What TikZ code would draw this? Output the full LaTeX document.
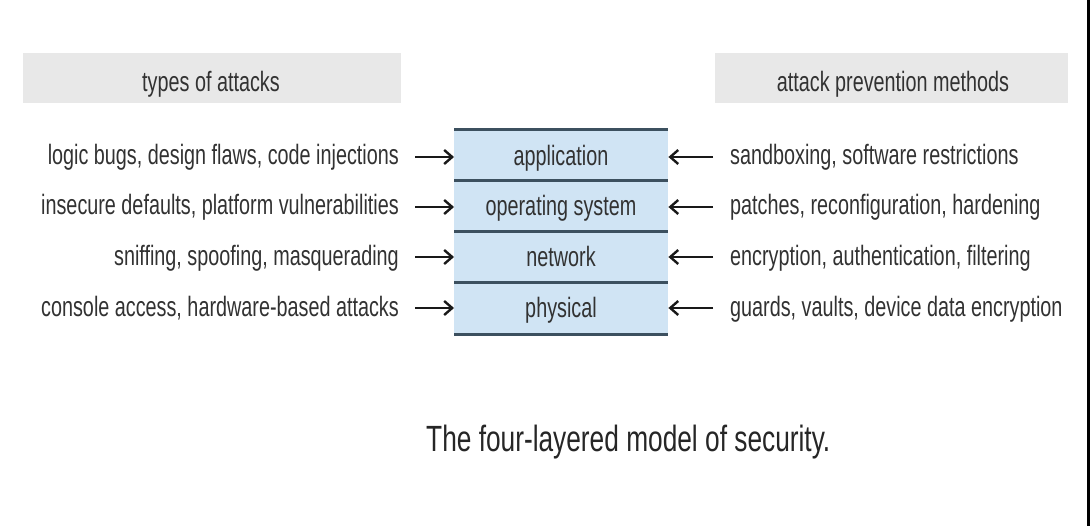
\documentclass[tikz,border=0pt]{standalone}
\usepackage{fontspec}
\setmainfont{Liberation Sans}[FakeStretch=0.707]
\newfontfamily\capfont{Liberation Sans}[FakeStretch=0.72]
\usetikzlibrary{arrows.meta}
\definecolor{layerfill}{RGB}{208,228,244}
\definecolor{layerline}{RGB}{60,80,95}
\definecolor{hdrgray}{RGB}{232,232,232}
\definecolor{txt}{RGB}{50,50,50}
\tikzset{
  lbl/.style={font=\fontsize{28}{32}\selectfont, text=txt, inner sep=0pt},
  hdr/.style={fill=hdrgray, draw=none, inner sep=0pt},
  layer/.style={fill=layerfill, draw=none, minimum width=214pt, minimum height=51pt, inner sep=0pt},
  sep/.style={draw=layerline, line width=3pt},
  arr/.style={-{Straight Barb[length=8pt,width=14pt,line width=2.4pt]}, line width=2.5pt, black!90},
}
\begin{document}
\begin{tikzpicture}[x=1pt,y=-1pt]
\useasboundingbox (0,0) rectangle (1090,526);
\fill[white] (0,0) rectangle (1090,526);
% headers
\node[hdr, minimum width=378pt, minimum height=50pt, anchor=north west] (hl) at (23,53) {};
\node[hdr, minimum width=353pt, minimum height=50pt, anchor=north west] (hr) at (715,53) {};
\node[lbl, anchor=base] (hlt) at (211,92) {types of attacks};
\node[lbl, anchor=base] (hrt) at (893,92) {attack prevention methods};
% layers
\node[layer, anchor=north west] (app) at (454,130) {};
\node[layer, anchor=north west] (os) at (454,181) {};
\node[layer, anchor=north west] (net) at (454,232) {};
\node[layer, anchor=north west] (phy) at (454,283) {};
\node[lbl, anchor=base] (appt) at (561,166) {application};
\node[lbl, anchor=base] (ost) at (561,216) {operating system};
\node[lbl, anchor=base] (nett) at (561,267) {network};
\node[lbl, anchor=base] (phyt) at (561,318) {physical};
\draw[sep] (app.north west) -- (app.north east);
\draw[sep] (os.north west) -- (os.north east);
\draw[sep] (net.north west) -- (net.north east);
\draw[sep] (phy.north west) -- (phy.north east);
\draw[sep] (phy.south west) -- (phy.south east);
% left texts
\node[lbl, anchor=base east] (l1) at (399,165) {logic bugs, design flaws, code injections};
\node[lbl, anchor=base east] (l2) at (399,215) {insecure defaults, platform vulnerabilities};
\node[lbl, anchor=base east] (l3) at (399,266) {sniffing, spoofing, masquerading};
\node[lbl, anchor=base east] (l4) at (399,317) {console access, hardware-based attacks};
% right texts
\node[lbl, anchor=base west] (r1) at (730,165) {sandboxing, software restrictions};
\node[lbl, anchor=base west] (r2) at (730,215) {patches, reconfiguration, hardening};
\node[lbl, anchor=base west] (r3) at (730,266) {encryption, authentication, filtering};
\node[lbl, anchor=base west] (r4) at (730,317) {guards, vaults, device data encryption};
% arrows
\draw[arr] ([shift={(16,-8)}]l1.base east) -- ([shift={(0,-8)}]l1.base east -| app.west);
\draw[arr] ([shift={(16,-8)}]l2.base east) -- ([shift={(0,-8)}]l2.base east -| os.west);
\draw[arr] ([shift={(16,-9)}]l3.base east) -- ([shift={(0,-9)}]l3.base east -| net.west);
\draw[arr] ([shift={(16,-9)}]l4.base east) -- ([shift={(0,-9)}]l4.base east -| phy.west);
\draw[arr] ([shift={(-17,-8)}]r1.base west) -- ([shift={(0,-8)}]r1.base west -| app.east);
\draw[arr] ([shift={(-17,-8)}]r2.base west) -- ([shift={(0,-8)}]r2.base west -| os.east);
\draw[arr] ([shift={(-17,-9)}]r3.base west) -- ([shift={(0,-9)}]r3.base west -| net.east);
\draw[arr] ([shift={(-17,-9)}]r4.base west) -- ([shift={(0,-9)}]r4.base west -| phy.east);
% caption
\node[font=\capfont\fontsize{36.5}{40}\selectfont, text=black!85, inner sep=0pt, anchor=base west] (cap) at (426,451) {The four-layered model of security.};
% right border
\fill[black] (1087,0) rectangle (1090,526);
\end{tikzpicture}
\end{document}
